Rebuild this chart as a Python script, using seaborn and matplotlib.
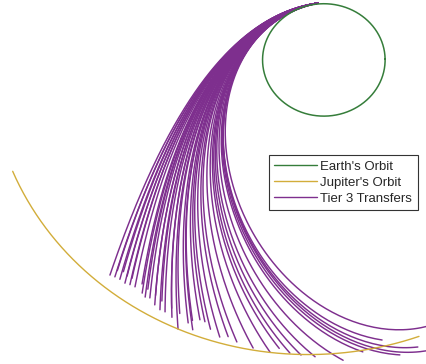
import numpy as np
import pandas as pd
import matplotlib
matplotlib.use("Agg")
import matplotlib.pyplot as plt
from matplotlib.lines import Line2D
import seaborn as sns

# ---- orbit elements (AU, degrees) ----
earth_a = 1.0
earth_e = 0.0167
jupiter_a = 5.2
jupiter_e = 0.0489
jupiter_peri_deg = 14.75
jupiter_arc_deg = [201.5, 287.5]  # drawn span of Jupiter's orbit

# ---- transfers: depart Earth, arrive near Jupiter's orbit ----
departure_deg = 95.0
departure_au = 1.0
arrival_deg = [227.8, 228.2, 228.7, 229.2, 229.7, 230.3, 230.9, 231.3, 231.8,
               232.8, 233.5, 234.6, 235.0, 235.5, 236.3, 236.9, 237.8, 238.5,
               239.1, 240.1, 240.8, 241.7, 242.6, 243.7, 244.8, 245.3, 246.1,
               246.5, 247.5, 249.0, 251.1, 252.5, 254.3, 257.4, 260.5, 262.0,
               264.0, 266.0, 268.5, 273.4, 277.0, 280.8, 283.3, 286.7, 291.4,
               293.0]
arrival_au = [5.19, 5.05, 5.16, 5.00, 5.14, 5.02, 5.14, 5.00, 5.11,
              5.09, 4.98, 5.11, 5.00, 5.14, 5.11, 5.02, 5.17, 5.05,
              5.20, 5.19, 5.08, 5.22, 5.10, 5.36, 5.19, 5.12, 5.27,
              5.06, 5.06, 5.15, 5.23, 5.18, 5.23, 5.27, 5.29, 5.20,
              5.26, 5.28, 5.30, 5.37, 5.25, 5.09, 5.41, 5.35, 5.48,
              5.05]
periapsis_deg = [102.0, 102.1, 102.3, 102.5, 102.6, 102.8, 102.9, 103.0, 103.2,
                 103.5, 103.7, 104.0, 104.1, 104.2, 104.4, 104.6, 104.8, 104.9,
                 105.1, 105.4, 105.6, 105.8, 106.0, 106.2, 106.4, 106.6, 106.7,
                 106.8, 107.0, 107.3, 107.6, 107.9, 108.1, 108.6, 109.0, 109.2,
                 109.5, 109.8, 110.0, 110.4, 110.7, 110.9, 111.0, 111.2, 111.4,
                 111.5]

legend_labels = ["Earth's Orbit", "Jupiter's Orbit", "Tier 3 Transfers"]
earth_color = "#357d3a"
jupiter_color = "#d2ad3a"
transfer_color = "#7e2f8e"


def ellipse_points(a, e, peri_deg, th_from, th_to, n=400):
    """Heliocentric ellipse (Sun at focus) sampled over true longitude."""
    th = np.radians(np.linspace(th_from, th_to, n))
    p = a * (1 - e ** 2)
    r = p / (1 + e * np.cos(th - np.radians(peri_deg)))
    return r * np.cos(th), r * np.sin(th)


def transfer_points(th1, r1, th2, r2, w, n=300):
    """Conic with the Sun at its focus through both end points, periapsis at w."""
    t1, t2, wr = np.radians([th1, th2, w])
    k = (1 / r1 - 1 / r2) / (np.cos(t1 - wr) - np.cos(t2 - wr))
    A = 1 / r1 - k * np.cos(t1 - wr)
    th = np.linspace(t1, t2, n)
    r = 1.0 / (A + k * np.cos(th - wr))
    return r * np.cos(th), r * np.sin(th)


ex, ey = ellipse_points(earth_a, earth_e, 102.9, 0, 360)
earth_df = pd.DataFrame({"x": ex, "y": ey})

jx, jy = ellipse_points(jupiter_a, jupiter_e, jupiter_peri_deg,
                        jupiter_arc_deg[0], jupiter_arc_deg[1])
jupiter_df = pd.DataFrame({"x": jx, "y": jy})

frames = []
for i, (th2, r2, w) in enumerate(zip(arrival_deg, arrival_au, periapsis_deg)):
    tx, ty = transfer_points(departure_deg, departure_au, th2, r2, w)
    frames.append(pd.DataFrame({"x": tx, "y": ty, "transfer": i}))
transfer_df = pd.concat(frames, ignore_index=True)

sns.set_theme(style="white")
plt.rcParams["font.family"] = ["Liberation Sans", "DejaVu Sans"]

fig = plt.figure(figsize=(4.27, 3.64), dpi=100)
ax = fig.add_axes([0, 0, 1, 1])

sns.lineplot(data=transfer_df, x="x", y="y", units="transfer", estimator=None,
             sort=False, color=transfer_color, linewidth=1.05, ax=ax)
sns.lineplot(data=jupiter_df, x="x", y="y", sort=False, estimator=None,
             color=jupiter_color, linewidth=1.0, ax=ax)
sns.lineplot(data=earth_df, x="x", y="y", sort=False, estimator=None,
             color=earth_color, linewidth=1.1, ax=ax)

ax.set_xlim(-5.28, 1.687)
ax.set_ylim(-5.427, 1.05)
ax.set_axis_off()

handles = [Line2D([], [], color=earth_color, lw=1.0),
           Line2D([], [], color=jupiter_color, lw=1.0),
           Line2D([], [], color=transfer_color, lw=1.0)]
leg = ax.legend(handles, legend_labels, loc="upper left",
                bbox_to_anchor=(0.630, 0.574), bbox_transform=ax.transAxes,
                fontsize=9.5, handlelength=3.2, handletextpad=0.3,
                labelspacing=0.3, borderpad=0.4, borderaxespad=0,
                fancybox=False, framealpha=1, edgecolor="#333333")
leg.get_frame().set_linewidth(0.8)

fig.savefig("out.png", dpi=100)
